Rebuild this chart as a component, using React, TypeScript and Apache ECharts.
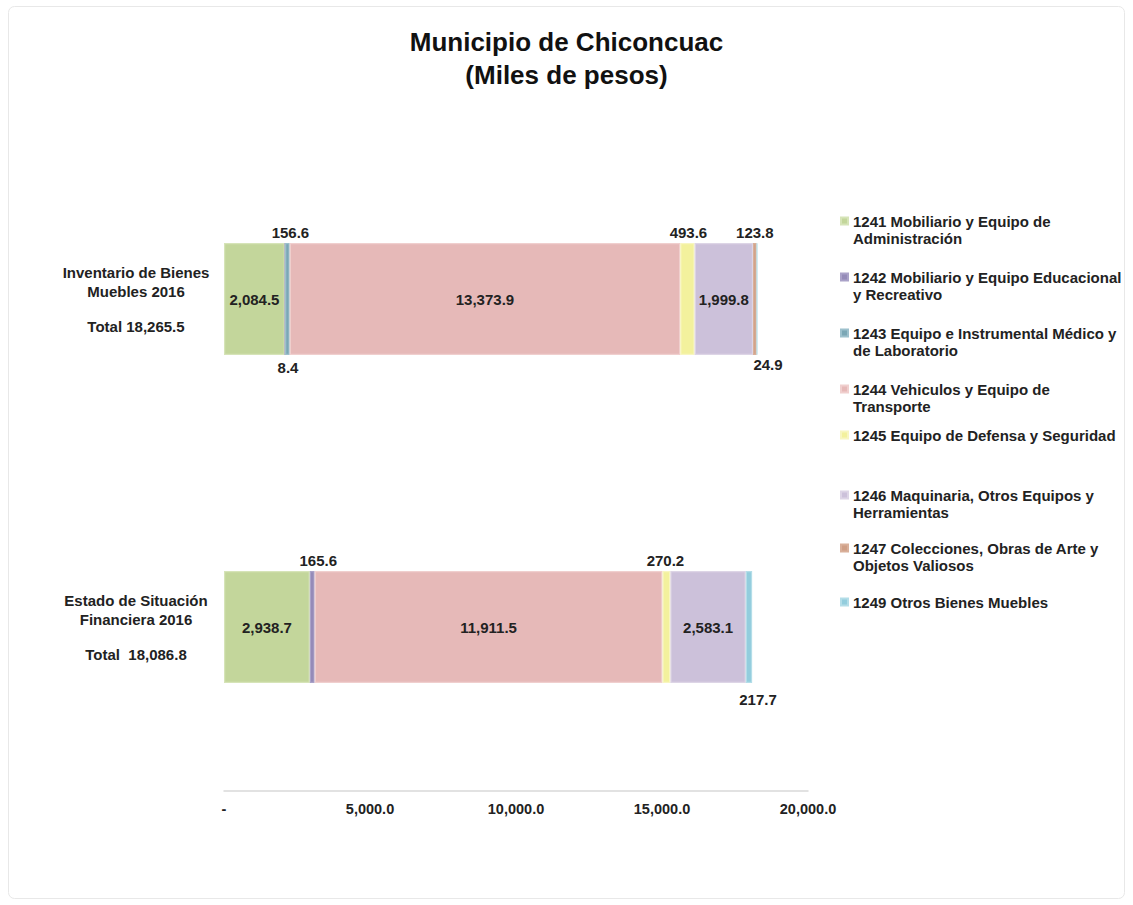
import React, { useEffect, useRef } from "react";
import * as echarts from "echarts";

// ---------- data ----------
const categories = ["Inventario de Bienes\nMuebles 2016", "Estado de Situación\nFinanciera 2016"];
const totalLabels = ["Total 18,265.5", "Total  18,086.8"];

const seriesNames = [
  "1241 Mobiliario y Equipo de\nAdministración",
  "1242 Mobiliario y Equipo Educacional\ny Recreativo",
  "1243 Equipo e Instrumental Médico y\nde Laboratorio",
  "1244 Vehiculos y Equipo de\nTransporte",
  "1245 Equipo de Defensa y Seguridad",
  "1246 Maquinaria, Otros Equipos y\nHerramientas",
  "1247 Colecciones, Obras de Arte y\nObjetos Valiosos",
  "1249 Otros Bienes Muebles",
];

const v1241 = [2084.5, 2938.7];
const v1242 = [8.4, 165.6];
const v1243 = [156.6, 0];
const v1244 = [13373.9, 11911.5];
const v1245 = [493.6, 270.2];
const v1246 = [1999.8, 2583.1];
const v1247 = [123.8, 0];
const v1249 = [24.9, 217.7];
const seriesValues = [v1241, v1242, v1243, v1244, v1245, v1246, v1247, v1249];

const axisMin = 0;
const axisMax = 20000;
const axisStep = 5000;

// ---------- styles ----------
const FONT = "'Liberation Sans', Arial, sans-serif";
const colors = ["#c3d69b", "#958bb8", "#7ba7b5", "#e6b9b8", "#f3f19d", "#ccc1da", "#cf9f86", "#93cddd"];
const borders = ["#d6e4b8", "#aaa2c8", "#9cc0cc", "#f0cfce", "#f8f6c0", "#ddd5e6", "#d9b09a", "#b3dde8"];

type Place = { p: string; d?: number; dx?: number } | null;
const placements: Place[][] = [
  [{ p: "inside" }, { p: "inside" }],
  [{ p: "bottom", d: 5, dx: 3 }, { p: "top", d: 3, dx: 6 }],
  [{ p: "top", d: 3, dx: 3 }, null],
  [{ p: "inside" }, { p: "inside" }],
  [{ p: "top", d: 3, dx: 1 }, { p: "top", d: 3, dx: -1 }],
  [{ p: "inside" }, { p: "inside" }],
  [{ p: "top", d: 3, dx: 0 }, null],
  [{ p: "bottom", d: 2, dx: 11 }, { p: "bottom", d: 9, dx: 9 }],
];
// first-line centre y of each legend entry
const legendY = [221, 277, 333, 389, 435, 495, 548, 602];

const fmt = (v: number) =>
  v.toLocaleString("en-US", { minimumFractionDigits: 1, maximumFractionDigits: 1 });

export default function App() {
  const ref = useRef<HTMLDivElement>(null);
  useEffect(() => {
    if (!ref.current) return;
    const chart = echarts.init(ref.current, undefined, { renderer: "svg" });

    const series = seriesNames.map((name, si) => ({
      name,
      type: "bar",
      stack: "total",
      barWidth: 112,
      itemStyle: { color: colors[si], borderColor: borders[si], borderWidth: 1.2 },
      data: seriesValues[si].map((v, ci) => {
        const pl = placements[si][ci];
        if (!v) return null;
        return {
          value: v,
          label: {
            show: !!pl,
            position: pl ? pl.p : "inside",
            distance: pl && pl.d !== undefined ? pl.d : 5,
            offset: [pl && pl.dx ? pl.dx : 0, 0],
            formatter: (p: any) => fmt(p.value),
            color: "#222",
            fontWeight: "bold",
            fontSize: 15,
            fontFamily: FONT,
          },
        };
      }),
    }));

    const legends = seriesNames.map((name, i) => {
      const twoLines = name.indexOf("\n") >= 0;
      return {
        data: [name],
        left: 840,
        top: legendY[i] - (twoLines ? 25.5 : 8.5),
        orient: "vertical",
        padding: 0,
        icon: "rect",
        itemWidth: 7,
        itemHeight: 7,
        selectedMode: false,
        formatter: (n: string) => (twoLines ? "\n" + n : n),
        textStyle: {
          fontFamily: FONT,
          fontWeight: "bold",
          fontSize: 15,
          lineHeight: 17,
          color: "#222",
        },
      };
    });

    chart.setOption({
      animation: false,
      backgroundColor: "#ffffff",
      textStyle: { fontFamily: FONT },
      title: {
        text: "Municipio de Chiconcuac\n(Miles de pesos)",
        left: "center",
        top: 20,
        textStyle: { fontFamily: FONT, fontWeight: "bold", fontSize: 26, lineHeight: 33, color: "#111" },
      },
      graphic: [
        {
          type: "rect",
          shape: { x: 8.5, y: 6.5, width: 1116, height: 892, r: 6 },
          style: { fill: "none", stroke: "#e8e8e8", lineWidth: 1 },
          silent: true,
        },
      ],
      legend: legends,
      grid: { left: 224, right: 325, top: 135, bottom: 114, containLabel: false },
      xAxis: {
        type: "value",
        min: axisMin,
        max: axisMax,
        interval: axisStep,
        axisLine: { show: true, lineStyle: { color: "#d9d9d9", width: 1.5 } },
        axisTick: { show: false },
        splitLine: { show: false },
        axisLabel: {
          margin: 10,
          color: "#222",
          fontWeight: "bold",
          fontSize: 14.5,
          fontFamily: FONT,
          formatter: (v: number) => (v === 0 ? "-" : fmt(v)),
        },
      },
      yAxis: {
        type: "category",
        inverse: true,
        data: categories,
        axisLine: { show: false },
        axisTick: { show: false },
        axisLabel: {
          align: "center",
          margin: 88,
          formatter: (value: string, idx: number) => {
            const lines = value.split("\n");
            return `{a|${lines[0]}}\n{a|${lines[1]}}\n{b| }\n{a|${totalLabels[idx]}}`;
          },
          rich: {
            a: { fontFamily: FONT, fontWeight: "bold", fontSize: 15, lineHeight: 19, color: "#222", align: "center" },
            b: { fontSize: 8, lineHeight: 16 },
          },
        },
      },
      series,
    });
    return () => chart.dispose();
  }, []);
  return (
    <div
      ref={ref}
      style={{ position: "absolute", left: 0, top: 0, width: 1133, height: 905 }}
    />
  );
}
